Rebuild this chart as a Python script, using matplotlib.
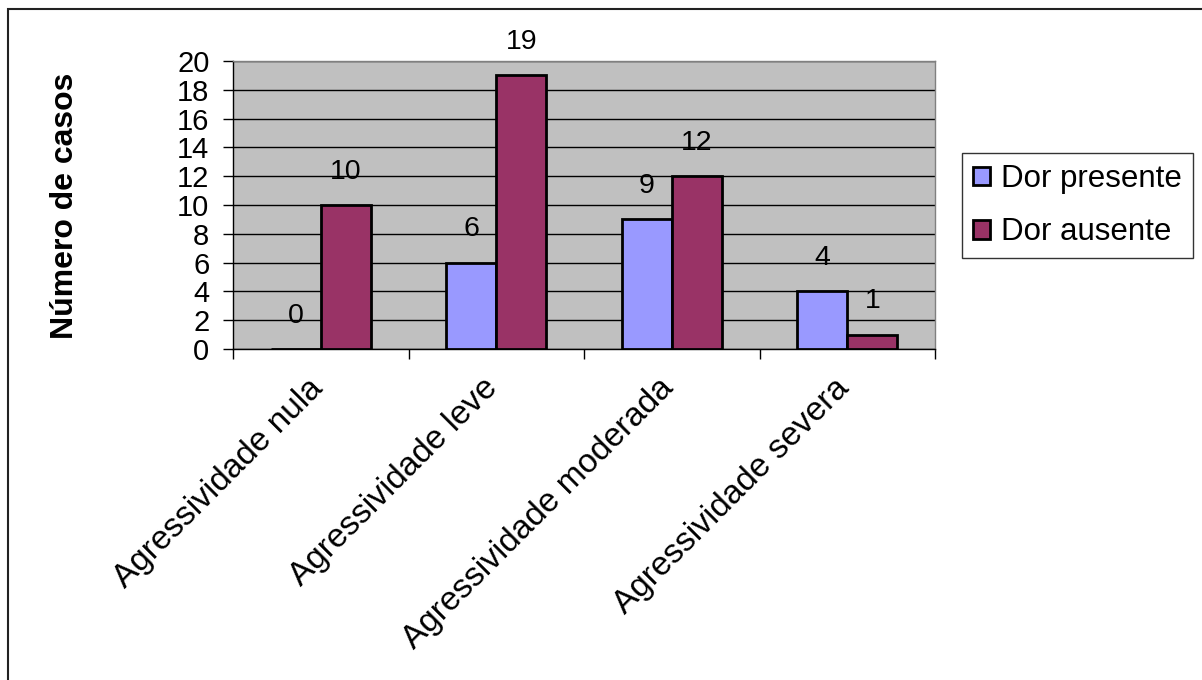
import matplotlib
matplotlib.use("Agg")
import matplotlib.pyplot as plt
from matplotlib.patches import Rectangle
from matplotlib.transforms import ScaledTranslation
import numpy as np

plt.rcParams['font.family'] = ['Liberation Sans', 'DejaVu Sans']

categories = ["Agressividade nula", "Agressividade leve",
              "Agressividade moderada", "Agressividade severa"]
series_names = ["Dor presente", "Dor ausente"]
dor_presente = [0, 6, 9, 4]
dor_ausente = [10, 19, 12, 1]
y_ticks = list(range(0, 21, 2))

W, H = 1202, 680
fig = plt.figure(figsize=(W / 100, H / 100), dpi=100)
fig.patch.set_facecolor("white")

# outer chart border (left and top edges visible)
fig.add_artist(Rectangle((8 / W, -0.05), 1.2, 1 - 9 / H + 0.05,
                         transform=fig.transFigure, fill=False,
                         edgecolor="#222222", linewidth=1.5))

ax = fig.add_axes([233 / W, 1 - 349 / H, (935 - 233) / W, (349 - 61) / H])
ax.set_facecolor("#C0C0C0")

x = np.arange(len(categories))
bw = 0.285
colors = ["#9999FF", "#993366"]
for i, (vals, c, name) in enumerate(zip([dor_presente, dor_ausente], colors, series_names)):
    pos = x + (i - 0.5) * bw
    ax.bar(pos, vals, width=bw, color=c, edgecolor="black",
           linewidth=2, label=name, zorder=3)
    for xp, v in zip(pos, vals):
        ax.annotate(str(v), (xp, v), xytext=(0, 14.5), textcoords="offset points",
                    ha="center", va="bottom", fontsize=20.5, zorder=4)

ax.set_xlim(-0.5, len(categories) - 0.5)
ax.set_ylim(0, 20)
ax.set_yticks(y_ticks)
ax.set_yticklabels([str(t) for t in y_ticks], fontsize=21)
ax.yaxis.grid(True, color="black", linewidth=1, zorder=1)
ax.set_axisbelow(True)

ax.set_xticks(np.arange(-0.5, len(categories)), minor=False)
ax.set_xticklabels([])
ax.set_xticks(x, minor=True)
ax.set_xticklabels(categories, minor=True, rotation=45, ha="right",
                   va="top", rotation_mode="anchor", fontsize=24)
ax.tick_params(axis="x", which="minor", length=0, pad=0)
ax.tick_params(axis="x", which="major", length=7, width=1, direction="out")
ax.tick_params(axis="y", length=7, width=1, direction="out", pad=10)

shift = ScaledTranslation(-10 / 72, -17 / 72, fig.dpi_scale_trans)
for lab in ax.get_xticklabels(minor=True):
    lab.set_transform(lab.get_transform() + shift)

for s in ["top", "right"]:
    ax.spines[s].set_color("#808080")
    ax.spines[s].set_linewidth(1)
for s in ["left", "bottom"]:
    ax.spines[s].set_color("black")
    ax.spines[s].set_linewidth(1)

ax.set_ylabel("Número de casos", fontsize=23, fontweight="bold")
ax.yaxis.set_label_coords((80 - 233) / 702, 0.497)

leg = fig.legend(loc="upper left", bbox_to_anchor=(962 / W, 1 - 153 / H),
                 borderaxespad=0, fontsize=22.5, frameon=True, fancybox=False,
                 edgecolor="black", handlelength=0.53, handleheight=0.53,
                 handletextpad=0.37, borderpad=0.35, labelspacing=0.75)
leg.get_frame().set_linewidth(1)

fig.savefig("out.png", dpi=100)
